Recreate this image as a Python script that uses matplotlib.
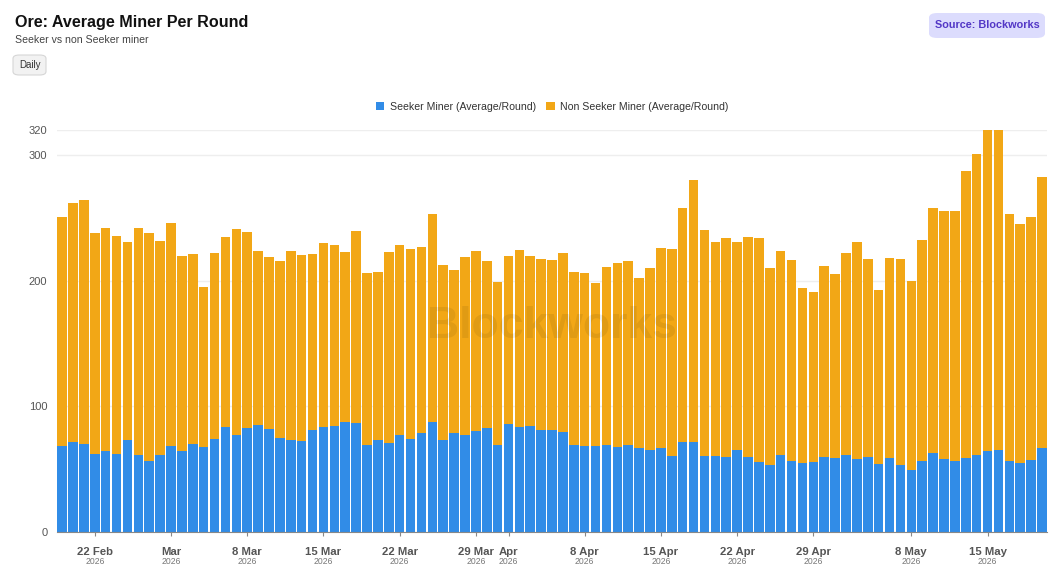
import numpy as np
import pandas as pd
import matplotlib
matplotlib.use("Agg")
import matplotlib.pyplot as plt
import matplotlib.dates as mdates
from matplotlib.patches import FancyBboxPatch
from matplotlib.transforms import blended_transform_factory

plt.rcParams["font.family"] = ["Liberation Sans", "DejaVu Sans"]

# -----------------------------
# Data: daily, 19 Feb 2026 -> 20 May 2026
# -----------------------------
seeker = [
    68.5, 71.2, 70.1, 62.1, 64.5, 61.9, 73.3, 61.3, 56.3, 61.1,
    68.0, 64.0, 70.1, 67.2, 74.1, 83.2, 76.8, 82.9, 85.1, 82.1,
    74.4, 72.8, 72.3, 80.8, 83.7, 84.5, 87.5, 86.4, 69.3, 73.1,
    70.7, 77.3, 74.1, 78.7, 87.5, 73.3, 78.7, 77.3, 80.0, 82.4,
    69.3, 85.6, 83.2, 84.5, 80.8, 81.3, 79.7, 69.3, 68.0, 68.5,
    68.8, 67.2, 69.3, 66.4, 64.8, 66.4, 60.0, 71.2, 71.2, 60.0,
    60.5, 59.2, 64.8, 59.5, 55.7, 53.3, 61.3, 56.3, 54.9, 55.2,
    59.7, 58.7, 61.3, 57.6, 59.7, 54.1, 58.4, 52.8, 48.8, 56.0,
    62.9, 57.9, 56.3, 58.4, 61.3, 64.3, 64.8, 56.0, 54.7, 57.1,
    66.4,
]
# total height of each stacked bar (seeker + non seeker)
total = [
    250.4, 261.6, 264.0, 237.6, 242.1, 235.5, 230.7, 242.1, 237.6, 231.2,
    245.6, 220.0, 221.6, 195.0, 222.1, 234.7, 241.1, 238.7, 223.7, 218.7,
    215.7, 223.7, 220.8, 221.3, 230.1, 228.3, 222.9, 239.2, 206.4, 207.2,
    222.7, 228.5, 225.3, 226.7, 253.3, 212.5, 208.8, 218.9, 223.7, 216.0,
    198.9, 220.0, 224.8, 219.5, 217.3, 216.5, 221.9, 207.2, 206.1, 198.1,
    210.7, 213.9, 216.0, 202.4, 210.4, 226.4, 225.6, 257.9, 280.5, 240.5,
    230.9, 234.1, 230.7, 234.4, 234.1, 210.1, 223.7, 216.5, 193.9, 191.2,
    211.7, 205.3, 221.9, 230.9, 217.3, 192.3, 218.1, 217.6, 199.5, 232.5,
    257.9, 255.7, 255.7, 287.7, 301.1, 320.0, 320.0, 253.3, 244.8, 250.7,
    282.4,
]
non_seeker = [t - s for t, s in zip(total, seeker)]
dates = pd.date_range("2026-02-19", periods=len(seeker), freq="D")

tick_dates = ["2026-02-22", "2026-03-01", "2026-03-08", "2026-03-15", "2026-03-22",
              "2026-03-29", "2026-04-01", "2026-04-08", "2026-04-15", "2026-04-22",
              "2026-04-29", "2026-05-08", "2026-05-15"]
tick_names = ["22 Feb", "Mar", "8 Mar", "15 Mar", "22 Mar", "29 Mar", "Apr",
              "8 Apr", "15 Apr", "22 Apr", "29 Apr", "8 May", "15 May"]

blue = "#318ce7"
orange = "#f2a716"

# -----------------------------
# Plot
# -----------------------------
fig = plt.figure(figsize=(10.6, 5.83), dpi=100)
ax = fig.add_axes([0.0538, 0.088, 0.934, 0.689])

x = mdates.date2num(dates)
ax.bar(x, seeker, width=0.88, color=blue, linewidth=0, zorder=2,
       label="Seeker Miner (Average/Round)")
ax.bar(x, non_seeker, width=0.88, bottom=seeker, color=orange, linewidth=0, zorder=2,
       label="Non Seeker Miner (Average/Round)")

ax.set_xlim(x[0] - 0.47, x[-1] + 0.47)
ax.set_ylim(0, 320)

ax.set_yticks([0, 100, 200, 300, 320])
ax.tick_params(axis="y", length=0, pad=7, labelsize=8, labelcolor="#555555")
ax.grid(axis="y", color="#eeeeee", linewidth=1, zorder=0)

tx = mdates.date2num(pd.to_datetime(tick_dates))
ax.set_xticks(tx)
ax.set_xticklabels(tick_names, fontsize=8.2, fontweight="bold", color="#555555")
ax.tick_params(axis="x", length=3, color="#888888", pad=8)
trans = blended_transform_factory(ax.transData, ax.transAxes)
for t in tx:
    ax.text(t, -0.073, "2026", transform=trans, ha="center", va="center",
            fontsize=6.2, color="#777777")

for s in ["top", "right", "left"]:
    ax.spines[s].set_visible(False)
ax.spines["bottom"].set_color("#888888")

# watermark
ax.text(0.5, 0.51, "Blockworks", transform=ax.transAxes, ha="center", va="center",
        fontsize=32, fontweight="bold", color="#000000", alpha=0.07, zorder=3)

# legend
ax.legend(loc="lower center", bbox_to_anchor=(0.5, 1.022), ncol=2, frameon=False,
          fontsize=7.6, handlelength=0.8, handleheight=0.8, handletextpad=0.5,
          columnspacing=1.0, labelcolor="#333333")

# titles
fig.text(15 / 1060, 1 - 22 / 583, "Ore: Average Miner Per Round", fontsize=11.6,
         fontweight="bold", color="#111111", va="center", ha="left")
fig.text(15 / 1060, 1 - 40 / 583, "Seeker vs non Seeker miner", fontsize=7.6,
         color="#444444", va="center", ha="left")

# "Daily" button
btn = FancyBboxPatch((13 / 1060, 1 - 75 / 583), 33 / 1060, 20 / 583,
                     boxstyle="round,pad=0,rounding_size=0.006",
                     transform=fig.transFigure, facecolor="#f2f2f2",
                     edgecolor="#d6d6d6", linewidth=0.8)
fig.patches.append(btn)
fig.text(29.5 / 1060, 1 - 64.5 / 583, "Daily", fontsize=7, color="#333333",
         ha="center", va="center")

# source badge
src = FancyBboxPatch((929 / 1060, 1 - 38 / 583), 116 / 1060, 25 / 583,
                     boxstyle="round,pad=0,rounding_size=0.008",
                     transform=fig.transFigure, facecolor="#dcdcfd",
                     edgecolor="none")
fig.patches.append(src)
fig.text(987 / 1060, 1 - 25.5 / 583, "Source: Blockworks", fontsize=7.8,
         fontweight="bold", color="#5237c6", ha="center", va="center")

fig.savefig("out.png", dpi=100)
